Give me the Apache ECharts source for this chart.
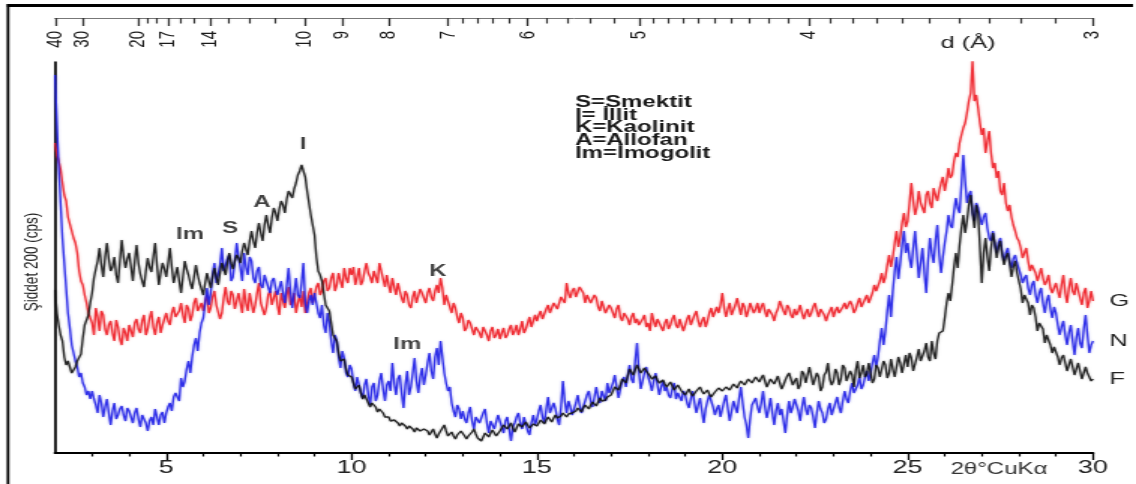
<!DOCTYPE html>
<html>
<head>
<meta charset="utf-8">
<script src="https://cdn.jsdelivr.net/npm/echarts@6/dist/echarts.min.js"></script>
<style>
html, body { margin: 0; padding: 0; background: #fff; overflow: hidden; }
#wrap { width: 1136px; height: 484px; overflow: hidden; position: relative; background: #fff; }
#chart { width: 757px; height: 484px; transform: scaleX(1.500661); transform-origin: 0 0; }
</style>
</head>
<body>
<div id="wrap"><div id="chart"></div></div>
<script>
// ---- data: 2θ sampled from 2.00° to 30.00° every 0.05° (20 values per degree row) ----
const twoThetaStart = 2.0;
const twoThetaStep = 0.05;
const seriesNames = ['G', 'N', 'F'];
const seriesColors = ['#ee1c24', '#1f1fe6', '#111111'];
const seriesGlow = ['rgba(238,28,36,0.45)', 'rgba(31,31,230,0.45)', 'rgba(17,17,17,0.35)'];

const intensityG = [
  310, 298, 292, 284, 270, 258, 252, 236, 238, 222, 215, 210, 200, 182, 172, 168, 158, 150, 140, 142,
  130, 118, 145, 136, 122, 142, 138, 124, 118, 128, 132, 120, 112, 133, 126, 114, 108, 125, 120, 112,
  128, 122, 116, 130, 134, 124, 120, 132, 138, 118, 124, 135, 142, 126, 118, 130, 136, 120, 128, 134,
  140, 132, 128, 140, 146, 136, 134, 142, 150, 138, 130, 148, 144, 132, 138, 150, 155, 142, 140, 150,
  142, 152, 158, 140, 145, 156, 162, 148, 150, 134, 140, 155, 166, 152, 148, 162, 158, 144, 152, 160,
  150, 140, 164, 150, 142, 160, 158, 140, 148, 160, 170, 150, 152, 138, 145, 158, 162, 148, 155, 162,
  148, 138, 160, 152, 145, 158, 166, 148, 152, 160, 140, 150, 158, 146, 162, 140, 150, 160, 165, 150,
  158, 166, 170, 158, 162, 172, 175, 162, 165, 175, 180, 162, 168, 180, 172, 165, 185, 175, 170, 185,
  178, 186, 168, 176, 185, 168, 172, 182, 190, 180, 176, 170, 182, 176, 170, 190, 188, 174, 166, 178,
  168, 160, 175, 166, 158, 170, 162, 155, 150, 162, 158, 148, 145, 156, 162, 150, 152, 164, 160, 158,
  150, 160, 165, 156, 152, 162, 168, 160, 175, 165, 148, 158, 156, 146, 140, 150, 145, 136, 130, 140,
  135, 122, 125, 133, 130, 124, 118, 126, 128, 120, 115, 126, 124, 118, 112, 122, 126, 115, 118, 124,
  114, 120, 125, 115, 118, 124, 128, 118, 122, 128, 118, 124, 132, 120, 124, 130, 136, 126, 128, 138,
  132, 138, 142, 134, 136, 144, 148, 140, 140, 150, 152, 144, 146, 156, 158, 150, 170, 160, 155, 162,
  165, 156, 158, 166, 168, 160, 150, 158, 160, 150, 148, 158, 155, 146, 142, 152, 150, 140, 140, 148,
  145, 140, 135, 144, 148, 136, 132, 140, 142, 134, 128, 136, 140, 130, 134, 128, 126, 134, 138, 126,
  130, 122, 140, 132, 126, 134, 136, 126, 122, 130, 134, 124, 128, 134, 138, 128, 125, 134, 132, 122,
  128, 134, 138, 128, 130, 138, 142, 132, 126, 132, 136, 126, 132, 140, 145, 136, 135, 146, 140, 148,
  160, 145, 136, 144, 150, 138, 140, 148, 155, 146, 138, 150, 146, 136, 142, 150, 152, 140, 144, 150,
  140, 146, 150, 142, 136, 144, 146, 138, 132, 140, 144, 152, 150, 142, 138, 148, 145, 138, 135, 144,
  138, 142, 148, 140, 134, 140, 144, 136, 140, 146, 150, 142, 136, 144, 146, 138, 132, 138, 142, 146,
  136, 142, 146, 140, 138, 146, 150, 144, 142, 152, 148, 140, 144, 150, 155, 146, 148, 154, 158, 150,
  155, 160, 168, 162, 162, 172, 180, 170, 176, 188, 198, 186, 196, 210, 222, 206, 216, 230, 240, 226,
  232, 250, 270, 252, 238, 246, 262, 250, 245, 240, 258, 262, 250, 245, 265, 258, 252, 262, 270, 276,
  262, 272, 285, 275, 278, 292, 300, 296, 310, 318, 325, 330, 340, 352, 360, 392, 352, 358, 345, 330,
  318, 325, 300, 312, 322, 300, 285, 290, 275, 282, 262, 258, 270, 250, 242, 248, 236, 228, 222, 215,
  212, 205, 195, 200, 205, 192, 182, 188, 190, 180, 172, 178, 185, 175, 168, 172, 178, 165, 160, 162,
  170, 162, 155, 168, 178, 160, 150, 165, 175, 162, 158, 170, 168, 155, 148, 160, 165, 145, 152, 162,
  152
];

const intensityN = [
  378, 330, 285, 250, 215, 190, 165, 140, 125, 108, 100, 92, 86, 76, 80, 70, 66, 58, 62, 54,
  62, 54, 48, 40, 58, 50, 36, 46, 54, 40, 28, 42, 50, 34, 38, 44, 47, 38, 32, 45,
  42, 36, 30, 40, 45, 34, 26, 38, 40, 30, 22, 32, 36, 28, 44, 36, 28, 38, 41, 30,
  40, 46, 50, 42, 56, 60, 62, 52, 75, 66, 72, 84, 92, 80, 96, 108, 115, 102, 120, 130,
  135, 150, 165, 148, 160, 178, 190, 170, 172, 188, 205, 182, 180, 194, 198, 172, 176, 192, 210, 196,
  185, 172, 200, 186, 178, 196, 192, 175, 170, 182, 186, 168, 165, 178, 180, 166, 160, 172, 175, 165,
  158, 165, 172, 160, 150, 168, 185, 162, 145, 160, 175, 158, 155, 170, 190, 150, 140, 152, 158, 148,
  160, 150, 140, 135, 148, 128, 120, 140, 130, 112, 100, 118, 112, 96, 85, 102, 95, 80, 76, 88,
  84, 70, 62, 76, 78, 60, 55, 68, 74, 58, 48, 66, 70, 52, 58, 72, 80, 64, 52, 68,
  72, 62, 90, 70, 58, 74, 78, 60, 45, 68, 82, 58, 66, 80, 95, 72, 60, 76, 85, 68,
  78, 90, 100, 82, 74, 96, 105, 88, 112, 96, 80, 70, 62, 66, 50, 42, 36, 48, 44, 34,
  42, 34, 30, 40, 46, 32, 24, 36, 38, 30, 28, 40, 44, 30, 20, 32, 34, 24, 26, 38,
  32, 26, 20, 32, 36, 24, 12, 26, 30, 36, 40, 30, 24, 36, 34, 22, 18, 30, 38, 28,
  34, 42, 48, 36, 30, 44, 56, 40, 38, 50, 44, 34, 28, 46, 72, 52, 40, 52, 46, 38,
  44, 50, 58, 48, 40, 46, 52, 58, 62, 52, 46, 56, 66, 56, 50, 62, 60, 52, 70, 60,
  62, 70, 78, 66, 55, 64, 72, 76, 66, 78, 88, 74, 70, 92, 110, 82, 64, 72, 80, 86,
  76, 70, 62, 72, 80, 68, 58, 66, 72, 62, 66, 58, 55, 64, 70, 54, 60, 58, 52, 62,
  58, 50, 45, 54, 62, 50, 40, 48, 55, 42, 30, 44, 52, 58, 60, 46, 38, 44, 48, 36,
  44, 52, 58, 44, 32, 42, 52, 46, 40, 54, 66, 50, 36, 28, 15, 34, 48, 50, 55, 46,
  40, 50, 62, 46, 35, 44, 55, 40, 28, 42, 50, 38, 44, 32, 20, 38, 52, 40, 46, 54,
  48, 42, 32, 46, 56, 44, 38, 48, 45, 36, 25, 40, 52, 44, 40, 30, 34, 44, 50, 38,
  44, 50, 56, 46, 40, 52, 62, 54, 50, 62, 70, 60, 58, 68, 76, 64, 68, 76, 82, 72,
  80, 90, 98, 86, 96, 112, 125, 108, 122, 142, 158, 136, 162, 182, 196, 174, 190, 208, 222, 200,
  210, 195, 185, 205, 222, 198, 175, 190, 205, 180, 160, 192, 215, 200, 190, 212, 228, 198, 180, 196,
  210, 222, 238, 228, 225, 242, 255, 245, 240, 268, 298, 272, 250, 258, 262, 240, 232, 250, 245, 236,
  228, 236, 240, 225, 215, 212, 222, 208, 200, 210, 215, 200, 192, 200, 205, 192, 185, 194, 198, 190,
  188, 178, 170, 175, 178, 165, 158, 168, 172, 158, 150, 160, 165, 150, 140, 152, 158, 144, 135, 146,
  140, 128, 118, 126, 132, 118, 108, 120, 128, 112, 98, 115, 125, 110, 105, 124, 138, 118, 100, 108,
  112
];

const intensityF = [
  163, 140, 128, 118, 112, 96, 88, 92, 86, 80, 78, 86, 92, 94, 99, 115, 128, 130, 138, 150,
  160, 175, 184, 192, 205, 188, 176, 196, 210, 194, 182, 186, 196, 178, 170, 192, 213, 196, 185, 194,
  200, 186, 172, 192, 208, 190, 179, 172, 166, 182, 195, 186, 181, 196, 210, 188, 168, 180, 190, 184,
  176, 190, 205, 186, 170, 178, 186, 172, 160, 176, 192, 184, 178, 170, 164, 176, 188, 178, 170, 164,
  158, 170, 180, 172, 165, 176, 185, 176, 168, 180, 190, 184, 178, 190, 200, 190, 184, 192, 198, 195,
  190, 202, 210, 204, 198, 212, 222, 212, 205, 220, 230, 220, 212, 228, 238, 228, 220, 235, 245, 240,
  232, 244, 252, 248, 240, 254, 262, 262, 255, 264, 270, 278, 282, 288, 290, 276, 262, 250, 238, 228,
  218, 196, 182, 178, 172, 160, 148, 146, 142, 130, 118, 115, 112, 100, 92, 94, 94, 84, 78, 80,
  76, 70, 64, 62, 68, 60, 54, 58, 58, 50, 46, 50, 52, 46, 41, 44, 46, 40, 36, 38,
  36, 32, 30, 33, 34, 30, 27, 30, 31, 27, 24, 27, 29, 24, 21, 25, 26, 22, 20, 24,
  26, 22, 18, 21, 24, 19, 15, 19, 22, 25, 28, 22, 17, 19, 21, 17, 14, 18, 20, 22,
  21, 17, 14, 17, 19, 21, 24, 19, 15, 14, 12, 16, 20, 18, 16, 20, 23, 20, 17, 19,
  22, 25, 28, 26, 24, 27, 30, 25, 21, 25, 29, 28, 26, 28, 31, 28, 25, 27, 29, 28,
  27, 30, 33, 31, 29, 33, 36, 34, 31, 35, 38, 35, 33, 37, 40, 38, 36, 39, 41, 40,
  38, 42, 45, 43, 41, 45, 48, 46, 44, 48, 51, 49, 47, 51, 55, 52, 50, 53, 56, 57,
  58, 62, 66, 65, 63, 68, 74, 72, 70, 77, 84, 81, 78, 83, 88, 84, 80, 82, 85, 82,
  80, 77, 74, 75, 77, 73, 70, 71, 73, 69, 66, 68, 71, 67, 63, 65, 68, 65, 62, 60,
  58, 61, 64, 60, 57, 59, 62, 64, 66, 62, 59, 61, 63, 59, 56, 58, 61, 63, 65, 63,
  62, 64, 66, 65, 63, 66, 69, 67, 65, 69, 72, 70, 68, 71, 74, 72, 70, 73, 76, 74,
  71, 75, 78, 72, 66, 70, 74, 72, 69, 73, 77, 70, 64, 68, 73, 77, 80, 74, 68, 72,
  75, 64, 68, 82, 79, 70, 72, 86, 84, 68, 70, 80, 76, 62, 66, 78, 81, 90, 74, 68,
  72, 84, 80, 68, 74, 88, 85, 72, 70, 82, 78, 66, 83, 92, 75, 80, 88, 76, 79, 90,
  80, 70, 74, 88, 85, 76, 78, 92, 88, 75, 80, 94, 84, 76, 77, 96, 90, 80, 82, 98,
  86, 100, 95, 82, 84, 96, 104, 92, 90, 102, 110, 96, 92, 112, 100, 94, 112, 120, 118, 122,
  135, 150, 160, 152, 168, 186, 200, 185, 208, 225, 238, 220, 232, 248, 258, 240, 225, 248, 240, 205,
  170, 200, 215, 196, 182, 205, 220, 210, 195, 206, 212, 198, 188, 196, 200, 190, 176, 186, 192, 180,
  172, 164, 150, 158, 160, 150, 138, 148, 145, 136, 122, 130, 130, 124, 110, 118, 118, 108, 100, 106,
  104, 96, 88, 95, 98, 90, 82, 88, 94, 86, 78, 84, 90, 82, 74, 80, 86, 80, 76, 72,
  74
];

// bottom 2θ axis
const twoThetaLabels = [5, 10, 15, 20, 25, 30];
const twoThetaMinorTicks = [3, 4, 6, 7, 8, 9, 11, 12, 13, 14, 16, 17, 18, 19, 21, 22, 23, 24, 26, 27, 28, 29];
// top d-spacing axis (Å)
const dSpacingLabels = [40, 30, 20, 17, 14, 10, 9, 8, 7, 6, 5, 4, 3];
const dSpacingMinorTicks = [19, 18, 16, 15, 13, 12, 11, 6.8, 6.6, 6.4, 6.2, 5.8, 5.6, 5.4, 5.2,
  4.9, 4.8, 4.7, 4.6, 4.5, 4.4, 4.3, 4.2, 4.1, 3.9, 3.8, 3.7, 3.6, 3.5, 3.4, 3.3, 3.2, 3.1];
const wavelengthCuKa = 1.5406;

// peak annotations [2θ, intensity, text]
const peakAnnotations = [
  [5.64, 218, 'Im'],
  [6.72, 224, 'S'],
  [7.58, 250, 'A'],
  [8.69, 308, 'I'],
  [12.33, 181, 'K'],
  [11.5, 108, 'Im']
];
const mineralKey = ['S=Smektit', 'I= İllit', 'K=Kaolinit', 'A=Allofan', 'Im=İmogolit'];

// ---- build ----
const SX = 1136 / 757;
const FONT = '"Liberation Sans", Arial, sans-serif';
function toPairs(arr) { return arr.map((v, i) => [+(twoThetaStart + i * twoThetaStep).toFixed(3), v]); }
function bragg(d) { return 2 * Math.asin(wavelengthCuKa / (2 * d)) * 180 / Math.PI; }
const topMin = 2.2;
const topMax = bragg(3) + 0.002;
const dMajorPos = dSpacingLabels.map(bragg);
const dMinorPos = dSpacingMinorTicks.map(bragg);

const chart = echarts.init(document.getElementById('chart'), null, { renderer: 'canvas' });

const allSeries = [intensityG, intensityN, intensityF].map((arr, k) => ({
  name: seriesNames[k],
  type: 'line',
  xAxisIndex: 0,
  yAxisIndex: 0,
  data: toPairs(arr),
  showSymbol: false,
  symbol: 'none',
  silent: true,
  z: 2 + k,
  lineStyle: { color: seriesColors[k], width: 1.35, opacity: 0.88, shadowColor: seriesGlow[k], shadowBlur: 2 },
  endLabel: {
    show: true,
    formatter: '{a}',
    color: '#222',
    fontSize: 17,
    fontFamily: FONT,
    distance: 11
  }
}));

allSeries.push({
  type: 'scatter',
  xAxisIndex: 0,
  yAxisIndex: 0,
  data: peakAnnotations,
  symbolSize: 0,
  silent: true,
  z: 10,
  itemStyle: { color: 'rgba(0,0,0,0)' },
  label: {
    show: true,
    position: 'inside',
    formatter: p => p.data[2],
    color: '#111',
    fontSize: 16,
    fontWeight: 'bold',
    fontFamily: FONT
  }
});

const option = {
  animation: false,
  backgroundColor: '#fff',
  textStyle: { fontFamily: FONT },
  grid: { left: 55 / SX, right: 757 - 1093 / SX, top: 62, bottom: 31, containLabel: false },
  xAxis: [
    {
      type: 'value', position: 'bottom', min: 2, max: 30,
      axisLine: { show: true, lineStyle: { color: '#000', width: 2 } },
      axisTick: { show: true, customValues: twoThetaLabels, length: 7, lineStyle: { color: '#000', width: 1.3 } },
      axisLabel: { show: true, customValues: twoThetaLabels, color: '#222', fontSize: 18, margin: 6, fontFamily: FONT },
      splitLine: { show: false }
    },
    {
      type: 'value', position: 'bottom', min: 2, max: 30,
      axisLine: { show: false },
      axisTick: { show: true, customValues: twoThetaMinorTicks, length: 3.5, lineStyle: { color: '#000', width: 1.2 } },
      axisLabel: { show: false },
      splitLine: { show: false }
    },
    {
      type: 'value', position: 'top', min: topMin, max: topMax, offset: 44,
      axisLine: { show: true, lineStyle: { color: '#777', width: 1 } },
      axisTick: { show: true, inside: true, customValues: dMajorPos, length: 8, lineStyle: { color: '#333', width: 1.3 } },
      axisLabel: {
        show: true, inside: true, customValues: dMajorPos, rotate: -90, margin: 13,
        color: '#1a1a1a', fontSize: 15, fontFamily: FONT,
        formatter: v => String(Math.round(wavelengthCuKa / (2 * Math.sin(v * Math.PI / 360))))
      },
      splitLine: { show: false }
    },
    {
      type: 'value', position: 'top', min: topMin, max: topMax, offset: 44,
      axisLine: { show: false },
      axisTick: { show: true, inside: true, customValues: dMinorPos, length: 5.5, lineStyle: { color: '#333', width: 1.2 } },
      axisLabel: { show: false },
      splitLine: { show: false }
    }
  ],
  yAxis: [{
    type: 'value', min: 0, max: 391,
    axisLine: { show: true, lineStyle: { color: '#000', width: 1.7 } },
    axisTick: { show: false },
    axisLabel: { show: false },
    splitLine: { show: false }
  }],
  series: allSeries,
  graphic: [
    { type: 'line', silent: true, shape: { x1: 8 / SX, y1: 4, x2: 8 / SX, y2: 484 }, style: { stroke: '#000', lineWidth: 1.8 } },
    { type: 'line', silent: true, shape: { x1: 7 / SX, y1: 5.5, x2: 1133 / SX, y2: 5.5 }, style: { stroke: '#000', lineWidth: 3 } },
    {
      type: 'text', silent: true, x: 32 / SX, y: 262, rotation: Math.PI / 2,
      style: { text: 'Şiddet 200 (cps)', fill: '#222', font: '13.5px ' + FONT, align: 'center', verticalAlign: 'middle', textAlign: 'center', textVerticalAlign: 'middle' }
    },
    {
      type: 'text', silent: true, x: 968 / SX, y: 43,
      style: { text: 'd (Å)', fill: '#222', font: '17px ' + FONT, align: 'center', verticalAlign: 'middle', textAlign: 'center', textVerticalAlign: 'middle' }
    },
    {
      type: 'text', silent: true, x: 999 / SX, y: 470,
      style: { text: '2θ°CuKα', fill: '#333', font: '16px ' + FONT, align: 'center', verticalAlign: 'middle', textAlign: 'center', textVerticalAlign: 'middle' }
    },
    {
      type: 'text', silent: true, x: 575 / SX, y: 96,
      style: { text: mineralKey.join('\n'), fill: '#1a1a1a', font: 'bold 16px ' + FONT, lineHeight: 12.8, align: 'left', verticalAlign: 'top', textAlign: 'left', textVerticalAlign: 'top' }
    }
  ]
};

chart.setOption(option);
</script>
</body>
</html>
